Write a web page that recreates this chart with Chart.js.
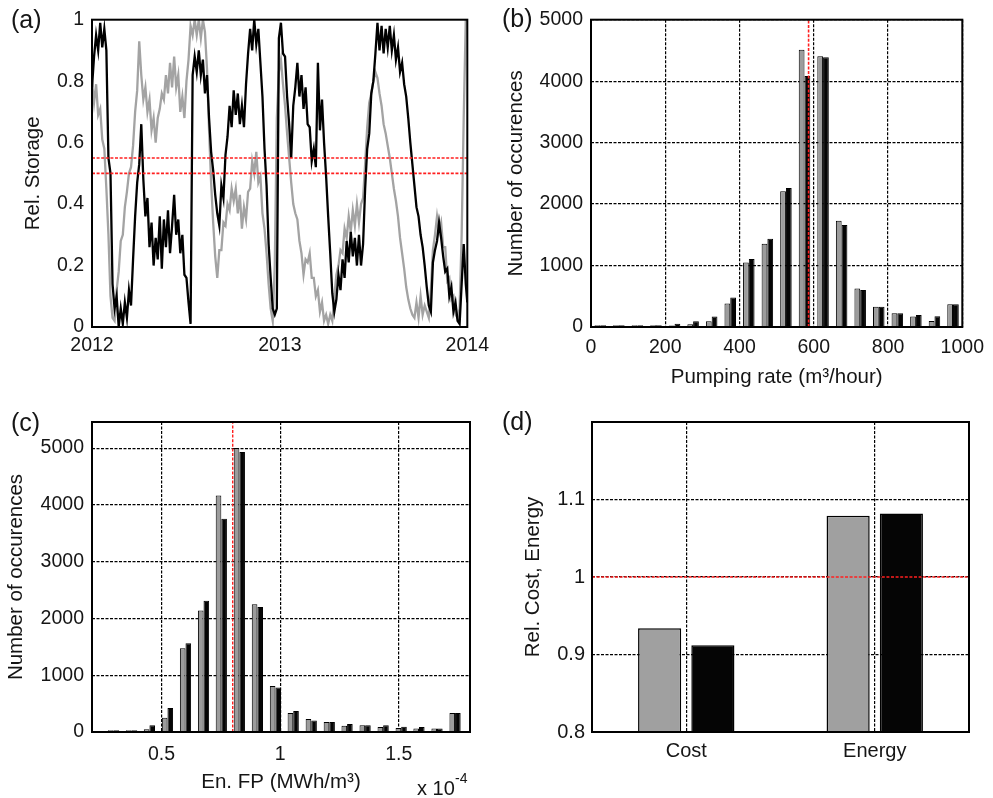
<!DOCTYPE html>
<html>
<head>
<meta charset="utf-8">
<script src="https://cdn.jsdelivr.net/npm/chart.js@4.4.1/dist/chart.umd.min.js"></script>
<style>
html,body{margin:0;padding:0;background:#fff;}
body{width:993px;height:798px;position:relative;overflow:hidden;}
canvas{position:absolute;}
</style>
</head>
<body>
<canvas id="ca" width="496" height="400" style="left:0px;top:0px"></canvas>
<canvas id="cb" width="497" height="400" style="left:496px;top:0px"></canvas>
<canvas id="cc" width="496" height="398" style="left:0px;top:400px"></canvas>
<canvas id="cd" width="497" height="398" style="left:496px;top:400px"></canvas>
<script>
// ---------- (a) relative storage time series (days since 1 Jan 2012) ----------
const storageDays = [0,4,8,12,16,20,24,28,32,36,40,44,48,52,56,60,64,68,72,76,80,84,88,92,96,100,104,108,112,116,120,124,128,132,136,140,144,148,152,156,160,164,168,172,176,180,184,188,192,196,200,204,208,212,216,220,224,228,232,236,240,244,248,252,256,260,264,268,272,276,280,284,288,292,296,300,304,308,312,316,320,324,328,332,336,340,344,348,352,356,360,364,368,372,376,380,384,388,392,396,400,404,408,412,416,420,424,428,432,436,440,444,448,452,456,460,464,468,472,476,480,484,488,492,496,500,504,508,512,516,520,524,528,532,536,540,544,548,552,556,560,564,568,572,576,580,584,588,592,596,600,604,608,612,616,620,624,628,632,636,640,644,648,652,656,660,664,668,672,676,680,684,688,692,696,700,704,708,712,716,720,724,728,731];
const storageBlack = [
0.78,0.88,0.95,0.90,0.99,0.91,0.97,0.90,0.55,0.50,
0.14,0.06,0.10,0.00,0.06,0.01,0.08,0.03,0.12,0.07,
0.22,0.36,0.47,0.53,0.66,0.48,0.36,0.42,0.26,0.34,
0.20,0.29,0.22,0.36,0.19,0.35,0.26,0.38,0.24,0.33,
0.43,0.30,0.35,0.24,0.30,0.17,0.16,0.08,0.01,0.82,
0.88,0.83,0.90,0.82,0.87,0.76,0.82,0.68,0.57,0.51,
0.43,0.37,0.33,0.46,0.42,0.56,0.62,0.72,0.65,0.77,
0.69,0.76,0.66,0.72,0.65,0.79,0.89,0.97,0.90,1.00,
0.92,0.97,0.86,0.75,0.58,0.46,0.27,0.16,0.06,0.04,
0.06,0.94,0.99,0.89,0.88,0.75,0.66,0.55,0.72,0.78,
0.86,0.75,0.82,0.71,0.78,0.66,0.65,0.54,0.58,0.52,
0.86,0.64,0.74,0.60,0.49,0.36,0.24,0.11,0.05,0.09,
0.17,0.12,0.22,0.16,0.28,0.21,0.31,0.23,0.29,0.20,
0.30,0.20,0.27,0.45,0.58,0.63,0.76,0.80,0.89,0.99,
0.90,0.98,0.89,0.97,0.91,0.98,0.90,0.95,0.87,0.91,
0.83,0.86,0.79,0.75,0.68,0.60,0.53,0.46,0.39,0.36,
0.30,0.26,0.20,0.13,0.07,0.05,0.21,0.25,0.28,0.34,
0.29,0.23,0.18,0.19,0.10,0.13,0.05,0.08,0.02,0.01,
0.14,0.27,0.14,0.08];
const storageGray = [
0.80,0.73,0.79,0.69,0.71,0.61,0.58,0.45,0.30,0.10,
0.03,0.02,0.12,0.18,0.28,0.30,0.39,0.44,0.50,0.52,
0.59,0.70,0.77,0.93,0.82,0.74,0.78,0.70,0.74,0.64,
0.68,0.60,0.68,0.71,0.76,0.74,0.82,0.76,0.86,0.78,
0.88,0.78,0.82,0.70,0.75,0.68,0.80,0.87,0.98,0.95,
1.00,0.95,1.00,0.94,1.00,0.96,0.84,0.64,0.47,0.34,
0.23,0.16,0.25,0.25,0.34,0.33,0.40,0.38,0.45,0.41,
0.45,0.37,0.43,0.32,0.39,0.35,0.44,0.45,0.54,0.50,
0.57,0.47,0.49,0.37,0.32,0.24,0.14,0.06,0.02,0.20,
0.68,0.83,0.87,0.79,0.72,0.63,0.55,0.47,0.40,0.37,
0.35,0.28,0.24,0.17,0.22,0.21,0.24,0.16,0.16,0.10,
0.12,0.05,0.08,0.02,0.04,0.01,0.04,0.02,0.10,0.17,
0.20,0.25,0.24,0.32,0.29,0.36,0.31,0.38,0.33,0.40,
0.34,0.40,0.42,0.53,0.65,0.73,0.76,0.80,0.83,0.81,
0.76,0.72,0.66,0.63,0.59,0.55,0.50,0.45,0.41,0.36,
0.29,0.24,0.19,0.13,0.09,0.06,0.04,0.03,0.08,0.03,
0.10,0.04,0.07,0.05,0.03,0.12,0.25,0.30,0.36,0.31,
0.34,0.26,0.26,0.15,0.16,0.09,0.10,0.04,0.03,0.06,
0.30,0.68,1.00,1.00];
const storageThresholds = [0.55, 0.5];
const storageTickDays = [0, 366, 731];
const storageTickLabels = ['2012', '2013', '2014'];
const storageYTicks = [0, 0.2, 0.4, 0.6, 0.8, 1];

// ---------- (b) pumping rate histogram ----------
const rateBins  = [25,75,125,175,225,275,325,375,425,475,525,575,625,675,725,775,825,875,925,975];
const rateGray  = [30,28,28,28,25,45,95,383,1048,1356,2207,4510,4404,1729,628,330,223,170,96,372];
const rateBlack = [30,28,28,30,53,95,172,479,1106,1436,2260,4085,4388,1660,601,330,223,197,176,372];
const rateRef = 586;
const rateXTicks = [0,200,400,600,800,1000];
const countTicks = [0,1000,2000,3000,4000,5000];

// ---------- (c) energy footprint histogram (x 1e-4 MWh/m3) ----------
const fpBins  = [0.298,0.374,0.449,0.525,0.601,0.677,0.752,0.828,0.904,0.980,1.055,1.131,1.207,1.282,1.358,1.434,1.510,1.585,1.661,1.737];
const fpGray  = [30,30,50,253,1473,2142,4167,5000,2248,808,335,229,176,110,118,88,70,62,62,334];
const fpBlack = [30,30,118,423,1561,2312,3756,4930,2200,784,368,203,176,143,118,118,92,88,62,334];
const fpRef = 0.8;
const fpXTicks = [0.5, 1, 1.5];

// ---------- (d) relative cost / energy ----------
const relCategories = ['Cost', 'Energy'];
const relGray  = [0.934, 1.079];
const relBlack = [0.912, 1.082];
const relRef = 1;
const relYTicks = [0.8, 0.9, 1, 1.1];

// ---------- styling ----------
const FONT = '"Liberation Sans", Arial, Helvetica, sans-serif';
const TXT = '#151515';
const GRAYLINE = '#a3a3a3';
const GRAYBAR = '#9c9c9c';
const RED = '#ff1f1f';
const GRID = {display: true, color: '#000', lineWidth: 1.2, drawTicks: false, offset: false};
const GRIDBORDER = {display: false, dash: [3, 1.5]};

function fmt(v) { return String(+Number(v).toFixed(3)); }
function setTicks(values) { return function (scale) { scale.ticks = values.map(v => ({value: v})); }; }
function tickFont(size) { return {family: FONT, size: size}; }
function titleOpt(text, pad) { return {display: true, text: text, color: TXT, font: {family: FONT, size: 20.5}, padding: pad}; }

function framePlugin(texts, refY) {
  return {
    id: 'frame',
    afterDatasetsDraw(chart) {
      const a = chart.chartArea, ctx = chart.ctx;
      ctx.save();
      if (refY !== undefined) {
        const y = chart.scales.y.getPixelForValue(refY);
        ctx.strokeStyle = RED;
        ctx.lineWidth = 1.6;
        ctx.setLineDash([3, 1.6]);
        ctx.beginPath();
        ctx.moveTo(a.left, y);
        ctx.lineTo(a.right, y);
        ctx.stroke();
      }
      ctx.setLineDash([]);
      ctx.strokeStyle = '#000';
      ctx.lineWidth = 2;
      ctx.strokeRect(a.left, a.top, a.right - a.left, a.bottom - a.top);
      ctx.restore();
    },
    afterDraw(chart) {
      const ctx = chart.ctx;
      ctx.save();
      ctx.fillStyle = TXT;
      ctx.textAlign = 'left';
      ctx.textBaseline = 'alphabetic';
      texts.forEach(t => { ctx.font = t.size + 'px ' + FONT; ctx.fillText(t.text, t.x, t.y); });
      ctx.restore();
    }
  };
}

const common = {
  responsive: false, animation: false, devicePixelRatio: 1,
  plugins: {legend: {display: false}, tooltip: {enabled: false}}
};

// ---------- (a) ----------
const firstDay = storageTickDays[0], lastDay = storageTickDays[storageTickDays.length - 1];
new Chart(document.getElementById('ca'), {
  type: 'line',
  data: {
    datasets: [
      ...storageThresholds.map(v => ({
        data: [{x: firstDay, y: v}, {x: lastDay, y: v}],
        borderColor: RED, borderWidth: 1.6, borderDash: [3, 1.6], pointRadius: 0, order: 0
      })),
      {data: storageDays.map((d, i) => ({x: d, y: storageBlack[i]})), borderColor: '#000', borderWidth: 2.3, pointRadius: 0, tension: 0, order: 1},
      {data: storageDays.map((d, i) => ({x: d, y: storageGray[i]})), borderColor: GRAYLINE, borderWidth: 2.3, pointRadius: 0, tension: 0, order: 2}
    ]
  },
  options: Object.assign({}, common, {
    layout: {padding: {left: 0, top: 15, right: 26, bottom: 0}},
    scales: {
      x: {type: 'linear', min: firstDay, max: lastDay, afterBuildTicks: setTicks(storageTickDays),
          afterFit: s => { s.height = 73; },
          grid: {display: false, drawTicks: false}, border: {display: false},
          ticks: {autoSkip: false, maxRotation: 0, padding: 7, color: TXT, font: tickFont(19.5),
                  callback: (v, i) => storageTickLabels[i]}},
      y: {type: 'linear', min: 0, max: 1, afterBuildTicks: setTicks(storageYTicks),
          afterFit: s => { s.width = 92; },
          grid: {display: false, drawTicks: false}, border: {display: false},
          ticks: {padding: 8, color: TXT, font: tickFont(19.5), callback: v => fmt(v)},
          title: titleOpt('Rel. Storage', {top: 21, bottom: 0})}
    }
  }),
  plugins: [framePlugin([{text: '(a)', x: 11, y: 28, size: 25}])]
});

// ---------- (b) ----------
new Chart(document.getElementById('cb'), {
  type: 'bar',
  data: {
    datasets: [
      {type: 'line', data: [{x: rateRef, y: 0}, {x: rateRef, y: countTicks[countTicks.length - 1]}],
       borderColor: RED, borderWidth: 1.6, borderDash: [3, 1.6], pointRadius: 0, order: 0},
      {data: rateBins.map((x, i) => ({x: x, y: rateGray[i]})), backgroundColor: GRAYBAR, borderColor: '#000', borderWidth: 1,
       categoryPercentage: 0.62, barPercentage: 1, order: 1},
      {data: rateBins.map((x, i) => ({x: x, y: rateBlack[i]})), backgroundColor: '#050505', borderColor: '#000', borderWidth: 1,
       categoryPercentage: 0.62, barPercentage: 1, order: 1}
    ]
  },
  options: Object.assign({}, common, {
    layout: {padding: {left: 0, top: 13, right: 24, bottom: 0}},
    scales: {
      x: {type: 'linear', min: 0, max: 1000, offset: false, afterBuildTicks: setTicks(rateXTicks),
          afterFit: s => { s.height = 73; },
          grid: GRID, border: GRIDBORDER,
          ticks: {autoSkip: false, maxRotation: 0, padding: 9, color: TXT, font: tickFont(19.5), callback: v => fmt(v)},
          title: titleOpt('Pumping rate (m³/hour)', {top: 0, bottom: 10})},
      y: {type: 'linear', min: 0, max: 5000, afterBuildTicks: setTicks(countTicks),
          afterFit: s => { s.width = 95; },
          grid: GRID, border: GRIDBORDER,
          ticks: {padding: 8, color: TXT, font: tickFont(19.5), callback: v => fmt(v)},
          title: titleOpt('Number of occurences', {top: 8, bottom: 0})}
    }
  }),
  plugins: [framePlugin([{text: '(b)', x: 6, y: 27, size: 25}])]
});

// ---------- (c) ----------
new Chart(document.getElementById('cc'), {
  type: 'bar',
  data: {
    datasets: [
      {type: 'line', data: [{x: fpRef, y: 0}, {x: fpRef, y: 5460}],
       borderColor: RED, borderWidth: 1.4, borderDash: [3, 1.6], pointRadius: 0, order: 0},
      {data: fpBins.map((x, i) => ({x: x, y: fpGray[i]})), backgroundColor: GRAYBAR, borderColor: '#000', borderWidth: 1,
       categoryPercentage: 0.63, barPercentage: 1, order: 1},
      {data: fpBins.map((x, i) => ({x: x, y: fpBlack[i]})), backgroundColor: '#050505', borderColor: '#000', borderWidth: 1,
       categoryPercentage: 0.63, barPercentage: 1, order: 1}
    ]
  },
  options: Object.assign({}, common, {
    layout: {padding: {left: 0, top: 22, right: 26, bottom: 0}},
    scales: {
      x: {type: 'linear', min: 0.207, max: 1.8, offset: false, afterBuildTicks: setTicks(fpXTicks),
          afterFit: s => { s.height = 66; },
          grid: GRID, border: GRIDBORDER,
          ticks: {autoSkip: false, maxRotation: 0, padding: 11, color: TXT, font: tickFont(19.5), callback: v => fmt(v)},
          title: titleOpt('En. FP (MWh/m³)', {top: 0, bottom: 3})},
      y: {type: 'linear', min: 0, max: 5460, afterBuildTicks: setTicks(countTicks),
          afterFit: s => { s.width = 92; },
          grid: GRID, border: GRIDBORDER,
          ticks: {padding: 8, color: TXT, font: tickFont(19.5), callback: v => fmt(v)},
          title: titleOpt('Number of occurences', {top: 4, bottom: 0})}
    }
  }),
  plugins: [framePlugin([
    {text: '(c)', x: 11, y: 31, size: 25},
    {text: 'x 10', x: 417, y: 395, size: 20},
    {text: '-4', x: 455, y: 383, size: 14}
  ])]
});

// ---------- (d) ----------
new Chart(document.getElementById('cd'), {
  type: 'bar',
  data: {
    labels: relCategories,
    datasets: [
      {data: relGray, backgroundColor: '#a0a0a0', borderColor: '#000', borderWidth: 1.5, borderSkipped: 'bottom',
       categoryPercentage: 0.565, barPercentage: 0.81},
      {data: relBlack, backgroundColor: '#050505', borderColor: '#000', borderWidth: 1.5, borderSkipped: 'bottom',
       categoryPercentage: 0.565, barPercentage: 0.81}
    ]
  },
  options: Object.assign({}, common, {
    layout: {padding: {left: 0, top: 22, right: 24, bottom: 0}},
    scales: {
      x: {type: 'category', offset: true, afterFit: s => { s.height = 66; },
          grid: GRID, border: GRIDBORDER,
          ticks: {autoSkip: false, maxRotation: 0, padding: 7, color: TXT, font: tickFont(20)}},
      y: {type: 'linear', min: 0.8, max: 1.2, afterBuildTicks: setTicks(relYTicks),
          afterFit: s => { s.width = 96; },
          grid: GRID, border: GRIDBORDER,
          ticks: {padding: 7, color: TXT, font: tickFont(20), callback: v => fmt(v)},
          title: titleOpt('Rel. Cost, Energy', {top: 25, bottom: 0})}
    }
  }),
  plugins: [framePlugin([{text: '(d)', x: 6, y: 30, size: 25}], relRef)]
});
</script>
</body>
</html>
